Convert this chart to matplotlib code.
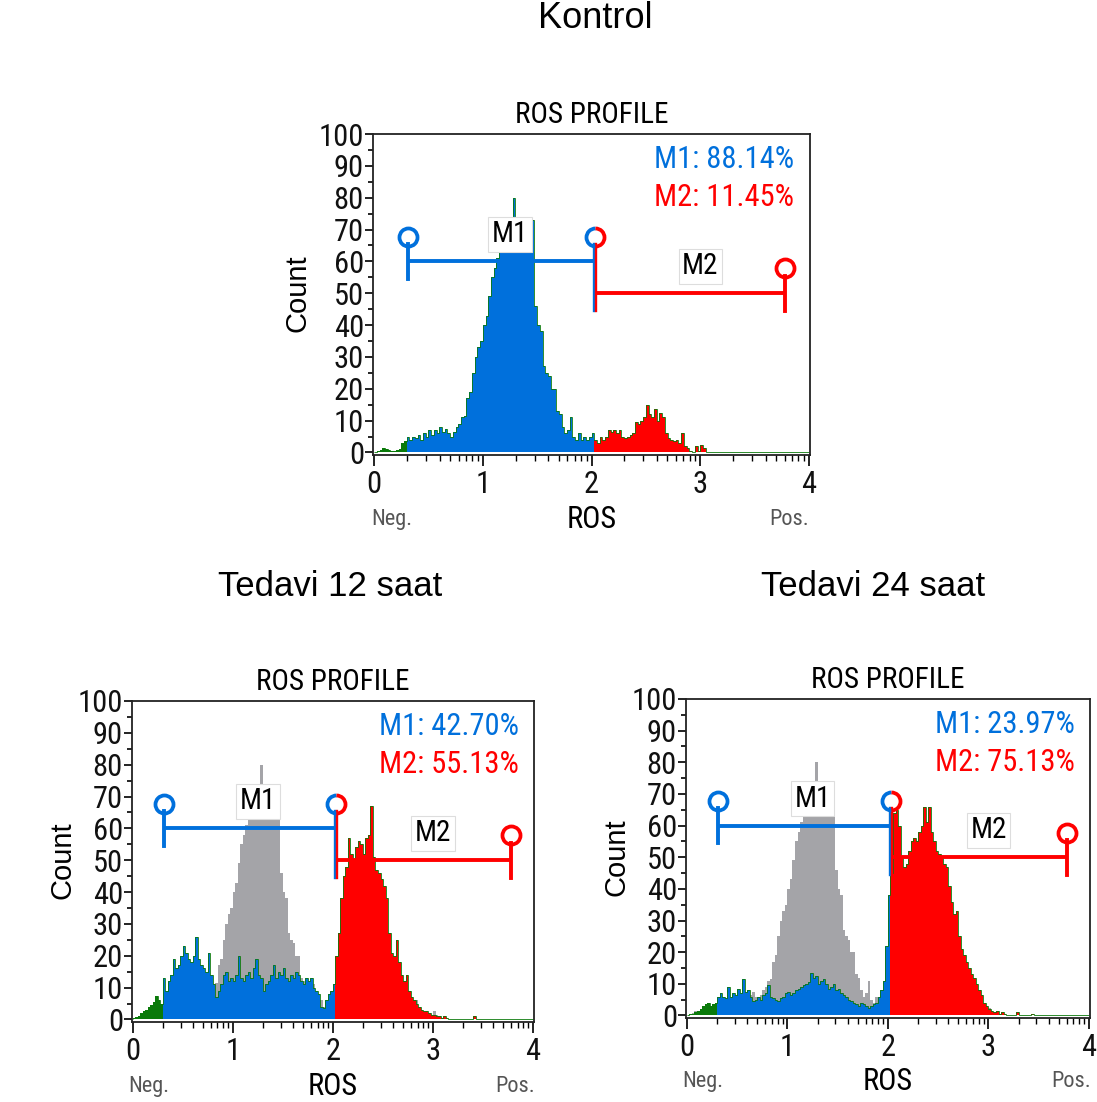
import numpy as np
import matplotlib
matplotlib.use("Agg")
import matplotlib.pyplot as plt
from matplotlib import font_manager
from matplotlib.path import Path
from matplotlib.transforms import blended_transform_factory

# ---------------- data (counts per channel, channel width 0.025 log units, 0..4) -------------
control_counts = [
    0.3, 0.5, 0.8, 1.5, 1.2, 0.8, 0.5, 0.5, 0.8, 1.2, 3, 3.5, 5, 4, 5, 4.5, 5.5, 4, 6, 5,
    7, 5.5, 7, 6, 8, 6.5, 7.5, 6, 5, 6.5, 8, 9, 11, 11.5, 17, 19, 25, 30, 33, 35,
    40, 43, 49, 55, 58, 61, 63, 64, 66, 67, 68, 80, 69, 67, 66, 66, 64, 63, 73, 46,
    40, 38, 27, 25, 24, 20, 20, 13, 12, 8, 6, 7, 11, 5, 4, 6, 4, 5, 4, 5,
    6, 4, 3, 5, 4, 5, 7, 6.5, 7, 6, 7, 5, 4.5, 5, 5.5, 6, 9.5, 9, 10, 11,
    15, 12, 11, 13.5, 10, 12.5, 11, 6, 4.5, 4, 3.5, 4, 3, 6, 2, 1.5, 0.5, 0, 2, 0.5,
    2.5, 1.5, 0, 0, 0, 0, 0, 0, 0, 0, 0, 0, 0, 0, 0, 0, 0, 0, 0, 0,
    0, 0, 0, 0, 0, 0, 0, 0, 0, 0, 0, 0, 0, 0, 0, 0, 0, 0, 0, 0,
]
h12_counts = [
    0.3, 0.8, 1.2, 2, 2.5, 3, 4, 4.5, 5.5, 7.5, 6, 5, 13, 9, 12, 14, 19, 16, 17, 20,
    23, 21, 19, 18, 20, 26, 19, 17, 16, 15, 21, 14, 11, 7, 9, 11, 14, 15, 12, 13,
    12, 14, 20, 13, 12, 14, 15, 13, 16, 19, 14, 13, 9, 11, 12, 14, 17, 13, 15, 14,
    16, 13, 12, 14, 13, 15, 14, 12, 11, 13, 12, 13, 10, 9, 8, 4, 3.5, 6, 8, 9,
    11, 20, 27, 38, 45, 48, 57, 52, 50, 54, 56, 55, 52, 57, 58, 67, 51, 47, 46, 44,
    42, 38, 27, 21, 20, 25, 18, 14, 12, 14, 9, 7, 6, 5, 4, 3, 2.5, 2.5, 2, 1.5,
    1.5, 1, 1, 0.5, 1, 0.5, 0, 0, 0, 0, 0, 0, 0, 0, 0, 0, 1, 0, 0, 0,
    0, 0, 0, 0, 0, 0, 0, 0, 0, 0, 0, 0, 0, 0, 0, 0, 0, 0, 0, 0,
]
h24_counts = [
    0.2, 0.4, 0.6, 1, 1.5, 2, 3, 3.5, 4, 3, 3.5, 4, 6, 7, 6, 5.5, 9, 6, 7, 6.5,
    8.5, 7, 11.5, 7.5, 8, 6, 4.5, 5, 6, 5, 6.5, 7, 9.5, 6, 5.5, 5, 4.5, 5.5, 6, 7,
    7.5, 6.5, 7, 8, 8.5, 9, 9.5, 10, 10.5, 13.5, 12, 12.5, 10, 11, 11.5, 10, 8.5, 9, 10, 8,
    8.5, 7, 6.5, 6, 5, 4.5, 4, 3.5, 3, 4, 3.5, 3, 2.5, 3, 3.5, 4, 6, 8, 11, 22,
    38, 45, 64, 65, 60, 50, 47, 48, 52, 55, 56, 55, 58, 60, 66, 61, 66, 58, 55, 52,
    51, 50, 48, 47, 41, 36, 32, 33, 25, 21, 19, 17, 15, 13, 12, 10, 8, 6.5, 4, 3,
    2, 1.5, 1, 1.5, 0.5, 1, 0.5, 0, 0, 0, 0, 1, 0, 0, 0, 0, 0, 0.5, 0, 0,
    0, 0, 0, 0, 0, 0, 0, 0, 0, 0, 0, 0, 0, 0, 0, 0, 0, 0, 0, 0,
]

panel_titles = ["Kontrol", "Tedavi 12 saat", "Tedavi 24 saat"]
m1_labels = ["M1: 88.14%", "M1: 42.70%", "M1: 23.97%"]
m2_labels = ["M2: 11.45%", "M2: 55.13%", "M2: 75.13%"]

color_bounds = (0.3, 2.025)      # green | blue | red channel regions
m1_gate = (0.31, 2.03)
m2_gate = (2.03, 3.78)
m1_level = 60
m2_level = 50

x_ticks = [0, 1, 2, 3, 4]
y_ticks = list(range(0, 101, 10))

# ---------------- style ----------------
BLUE = "#0070DC"
RED = "#FF0000"
GREEN = "#0A7A0A"
GRAY = "#A4A4A8"


def narrow_props():
    """Find a condensed sans font; return kwargs for text."""
    for fam in ["Liberation Sans Narrow", "Arial Narrow", "Roboto Condensed",
                "Open Sans Condensed", "Noto Sans Condensed"]:
        try:
            font_manager.findfont(font_manager.FontProperties(family=fam),
                                  fallback_to_default=False)
            return dict(family=fam)
        except Exception:
            pass
    for fam in ["DejaVu Sans", "Noto Sans", "Open Sans", "Roboto"]:
        try:
            p = font_manager.findfont(font_manager.FontProperties(family=fam, stretch="condensed"),
                                      fallback_to_default=False)
            if "ondensed" in p or "arrow" in p:
                return dict(family=fam, stretch="condensed")
        except Exception:
            pass
    return dict(family="Liberation Sans")


NP = narrow_props()
REG = "Liberation Sans"

fig = plt.figure(figsize=(10.97, 11.02), dpi=100)
fig.patch.set_facecolor("white")

half_r = Path.arc(-90, 90)
half_l = Path.arc(90, 270)


def ntext(ax, x, y, s, **kw):
    return ax.text(x, y, s, **NP, **kw)


def draw_panel(ax, counts, m1_txt, m2_txt, overlay=None):
    counts = np.asarray(counts, dtype=float)
    edges = np.linspace(0, 4, len(counts) + 1)
    left = edges[:-1]
    w = edges[1] - edges[0]
    cols = [GREEN if l < color_bounds[0] - 1e-9 else (BLUE if l < color_bounds[1] - 1e-9 else RED)
            for l in left]
    if overlay is not None:
        ax.bar(left, overlay, width=w, align="edge", color=GRAY, linewidth=0, zorder=1)
    ax.bar(left, counts, width=w, align="edge", color=cols, linewidth=0, zorder=2)
    ax.stairs(counts, edges, color=GREEN, linewidth=0.6, zorder=2.5)

    ax.set_xlim(-0.01, 4.01)
    ax.set_ylim(-0.8, 100)
    ax.set_facecolor("none")

    # gates
    lw = 2.8
    ms = 13
    mew = 2.7
    ax.plot([m1_gate[0], m1_gate[1]], [m1_level, m1_level], color=BLUE, lw=lw, zorder=3,
            solid_capstyle="butt")
    ax.plot([m1_gate[0], m1_gate[0]], [m1_level - 5.5, m1_level + 5.5], color=BLUE, lw=lw, zorder=3)
    ax.plot([m1_gate[0]], [m1_level + 7.8], marker="o", ms=ms, mfc="none", mec=BLUE, mew=mew, zorder=3)
    ax.plot([m2_gate[0], m2_gate[1]], [m2_level, m2_level], color=RED, lw=lw, zorder=3,
            solid_capstyle="butt")
    ax.plot([m1_gate[1] - 0.008] * 2, [m2_level - 5.5, m1_level + 5.5], color=BLUE, lw=1.7, zorder=3)
    ax.plot([m2_gate[0] + 0.008] * 2, [m2_level - 5.5, m1_level + 5.5], color=RED, lw=1.7, zorder=3)
    ax.plot([m1_gate[1]], [m1_level + 7.8], marker=half_l, ms=ms, mfc="none", mec=BLUE, mew=mew, zorder=3)
    ax.plot([m1_gate[1]], [m1_level + 7.8], marker=half_r, ms=ms, mfc="none", mec=RED, mew=mew, zorder=3)
    ax.plot([m2_gate[1], m2_gate[1]], [m2_level - 5.5, m2_level + 5.5], color=RED, lw=lw, zorder=3)
    ax.plot([m2_gate[1]], [m2_level + 7.8], marker="o", ms=ms, mfc="none", mec=RED, mew=mew, zorder=3)

    box = dict(boxstyle="square,pad=0.12", fc="white", ec="#DDDDDD", lw=0.8)
    ntext(ax, 1.25, 68.5, "M1", ha="center", va="center", fontsize=21, bbox=box, zorder=4)
    ntext(ax, 3.0, 58.5, "M2", ha="center", va="center", fontsize=21, bbox=box, zorder=4)

    ntext(ax, 3.86, 92, m1_txt, ha="right", va="center", fontsize=22, color=BLUE, zorder=4)
    ntext(ax, 3.86, 80, m2_txt, ha="right", va="center", fontsize=22, color=RED, zorder=4)

    # axes styling
    for s in ax.spines.values():
        s.set_linewidth(1.3)
        s.set_color("#222222")
    ax.set_yticks(y_ticks)
    ax.set_yticks(list(range(5, 100, 10)), minor=True)
    ax.set_xticks(x_ticks)
    minor_x = [d + np.log10(k) for d in range(4) for k in range(2, 10)]
    ax.set_xticks(minor_x, minor=True)
    ax.tick_params(axis="y", which="major", direction="out", length=6, width=1.3, pad=0.5,
                   labelsize=22, colors="#111111")
    ax.tick_params(axis="y", which="minor", direction="out", length=3.5, width=1.2)
    ax.tick_params(axis="x", which="major", direction="out", length=8, width=1.3, pad=2.5,
                   labelsize=22, colors="#111111")
    ax.tick_params(axis="x", which="minor", direction="out", length=4.5, width=1.0)
    for lab in ax.get_xticklabels() + ax.get_yticklabels():
        lab.set_fontproperties(font_manager.FontProperties(size=22, **NP))
    ax.set_title("ROS PROFILE", fontsize=21, pad=8, **NP)

    tr = blended_transform_factory(ax.transData, ax.transAxes)
    ntext(ax, 2.0, -0.2, "ROS", transform=tr, ha="center", va="center", fontsize=22)
    ntext(ax, 0.16, -0.2, "Neg.", transform=tr, ha="center", va="center", fontsize=16,
          color="#555555")
    ntext(ax, 3.82, -0.2, "Pos.", transform=tr, ha="center", va="center", fontsize=16,
          color="#555555")
    ax.text(-0.172, 0.505, "Count", transform=ax.transAxes, rotation=90, ha="center",
            va="center", fontsize=21, family=REG)


ax_top = fig.add_axes([0.3400, 0.5871, 0.3984, 0.2913])
ax_bl = fig.add_axes([0.1203, 0.0726, 0.3665, 0.2913])
ax_br = fig.add_axes([0.6253, 0.0762, 0.3683, 0.2895])

draw_panel(ax_top, control_counts, m1_labels[0], m2_labels[0])
draw_panel(ax_bl, h12_counts, m1_labels[1], m2_labels[1], overlay=control_counts)
draw_panel(ax_br, h24_counts, m1_labels[2], m2_labels[2], overlay=control_counts)

fig.text(595 / 1097, 1 - 18 / 1102, panel_titles[0], ha="center", va="center", fontsize=26, family=REG)
fig.text(330 / 1097, 1 - 587 / 1102, panel_titles[1], ha="center", va="center", fontsize=25, family=REG)
fig.text(873 / 1097, 1 - 586 / 1102, panel_titles[2], ha="center", va="center", fontsize=25, family=REG)

fig.savefig("out.png", dpi=100, facecolor="white")
